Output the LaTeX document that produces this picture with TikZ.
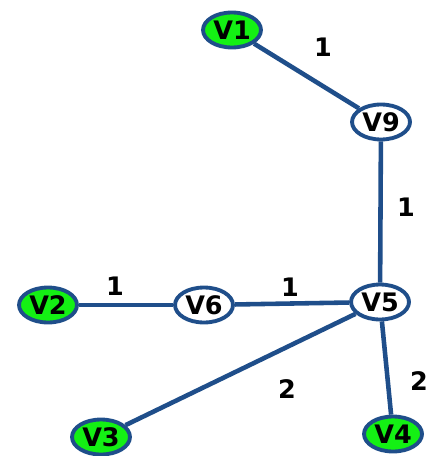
\documentclass[tikz,border=0pt]{standalone}
\usepackage{fontspec}
\setmainfont{DejaVu Sans}
\usepackage{tikz}
\usetikzlibrary{calc}
\usetikzlibrary{shapes.geometric}
\definecolor{edgeblue}{RGB}{31,78,138}
\definecolor{vgreen}{RGB}{20,240,20}
\tikzset{
  vert/.style={ellipse, draw=edgeblue, line width=2.2pt, fill=white, inner sep=0pt,
    minimum width=1.16cm, minimum height=0.7cm, font=\fontsize{14.5}{14.5}\selectfont\bfseries},
  leaf/.style={vert, fill=vgreen},
  wt/.style={font=\fontsize{14.5}{14.5}\selectfont\bfseries},
  link/.style={draw=edgeblue, line width=2.6pt}
}
\begin{document}
\begin{tikzpicture}[x=0.02cm, y=-0.02cm]
\useasboundingbox (0,0) rectangle (434,456);
\node [leaf] (V1) at (232, 30) {V1};
\node [vert] (V9) at (381, 122) {V9};
\node [vert] (V5) at (380, 302) {V5};
\node [vert] (V6) at (204, 305) {V6};
\node [leaf] (V2) at (48, 305) {V2};
\node [leaf] (V3) at (101, 437) {V3};
\node [leaf] (V4) at (393, 434) {V4};
\draw [link] (V1) to (V9);
\draw [link] (V9) to (V5);
\draw [link] (V2) to (V6);
\draw [link] (V6) to (V5);
\draw [link] (V5) to (V3);
\draw [link] (V5) to (V4);
\node [wt] (w19) at (323, 47) {1};
\node [wt] (w95) at (406, 207) {1};
\node [wt] (w26) at (115, 286) {1};
\node [wt] (w65) at (290, 287) {1};
\node [wt] (w53) at (287, 389) {2};
\node [wt] (w54) at (419, 381) {2};
\end{tikzpicture}
\end{document}
